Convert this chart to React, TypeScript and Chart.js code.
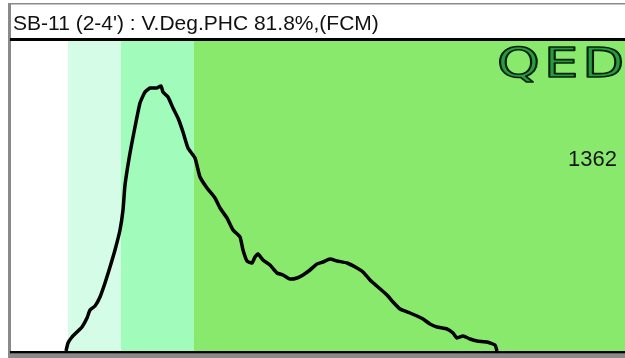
import { useEffect, useRef } from "react";
import { Chart, registerables } from "chart.js";

Chart.register(...registerables);

const TITLE = "SB-11 (2-4') : V.Deg.PHC 81.8%,(FCM)";
const LOGO = "QED";
const ANNOTATION = "1362";

const X_MAX = 614;
const Y_MAX = 310;

const retentionTime = [
  55, 57, 61, 66, 71, 76, 79, 84, 89, 94, 99, 104, 109, 112, 114, 119, 124, 129, 134, 139,
  146, 150, 152, 157, 162, 167, 172, 177, 184, 189, 196, 204, 209, 216, 222, 229, 232, 236,
  241, 244, 247, 252, 259, 266, 272, 279, 286, 292, 299, 306, 312, 319, 326, 336, 346, 352,
  359, 367, 376, 382, 389, 399, 406, 412, 419, 426, 436, 442, 446, 452, 459, 466, 476, 484, 486,
];
const response = [
  0, 8, 14, 19, 24, 33, 41, 45, 54, 68, 84, 101, 121, 141, 166, 198, 224, 248, 259, 263,
  263, 265, 259, 254, 243, 233, 219, 203, 193, 174, 163, 153, 143, 133, 121, 114, 101, 90,
  88, 94, 97, 91, 86, 78, 76, 72, 73, 76, 81, 87, 89, 92, 90, 88, 83, 79,
  71, 64, 56, 49, 42, 38, 35, 32, 27, 24, 22, 18, 13, 15, 12, 10, 9, 6, 0,
];

const bandStarts = [0, 57, 110, 183];
const bandEnds = [57, 110, 183, 614];
const bandColors = ["#ffffff", "#d4fce6", "#a1fbba", "#89e96c"];

const logoPos = { x: 486, y: 274 };
const annotationPos = { x: 606, y: 185 };

const framePlugin = {
  id: "frame",
  beforeDraw(chart: any) {
    const { ctx, width, height, chartArea, scales } = chart;
    ctx.save();
    ctx.fillStyle = "#ffffff";
    ctx.fillRect(0, 0, width, height);
    const xs = scales.x;
    for (let i = 0; i < bandStarts.length; i++) {
      const x0 = xs.getPixelForValue(bandStarts[i]);
      const x1 = xs.getPixelForValue(bandEnds[i]);
      ctx.fillStyle = bandColors[i];
      ctx.fillRect(x0, chartArea.top, x1 - x0, chartArea.bottom - chartArea.top);
    }
    ctx.fillStyle = "#8a8a8a";
    ctx.fillRect(8, 3, width - 8, 1.5);
    ctx.fillRect(8, 3, 3, height - 3);
    ctx.fillRect(8, chartArea.bottom + 2.5, width - 8, height - chartArea.bottom);
    ctx.fillStyle = "#111111";
    ctx.font = "21px 'Liberation Sans'";
    ctx.textBaseline = "alphabetic";
    ctx.textAlign = "left";
    ctx.fillText(TITLE, 13, 30);
    ctx.restore();
  },
  afterDatasetsDraw(chart: any) {
    const { ctx, chartArea, scales } = chart;
    ctx.save();
    ctx.fillStyle = "#000000";
    ctx.fillRect(chartArea.left - 1, chartArea.top - 3, chartArea.right - chartArea.left + 1, 3);
    ctx.fillRect(chartArea.left - 1, chartArea.bottom, chartArea.right - chartArea.left + 1, 2.5);
    ctx.fillStyle = "#151515";
    ctx.font = "22px 'Liberation Sans'";
    ctx.textAlign = "right";
    ctx.textBaseline = "alphabetic";
    ctx.fillText(ANNOTATION, scales.x.getPixelForValue(annotationPos.x), scales.y.getPixelForValue(annotationPos.y));
    const lx = scales.x.getPixelForValue(logoPos.x);
    const ly = scales.y.getPixelForValue(logoPos.y);
    ctx.beginPath();
    ctx.rect(chartArea.left, chartArea.top, chartArea.right - chartArea.left, chartArea.bottom - chartArea.top);
    ctx.clip();
    ctx.translate(lx, ly);
    ctx.scale(1.36, 1);
    ctx.font = "40px 'DejaVu Sans'";
    (ctx as any).letterSpacing = "3px";
    ctx.textAlign = "left";
    ctx.lineJoin = "round";
    ctx.fillStyle = "#2a9a40";
    ctx.strokeStyle = "#052008";
    ctx.lineWidth = 1.6;
    ctx.fillText(LOGO, 0, 0);
    ctx.strokeText(LOGO, 0, 0);
    ctx.restore();
  },
};

export default function App() {
  const ref = useRef<HTMLCanvasElement>(null);
  useEffect(() => {
    if (!ref.current) return;
    const chart = new Chart(ref.current, {
      type: "line",
      data: {
        datasets: [
          {
            data: retentionTime.map((x, i) => ({ x, y: response[i] })),
            borderColor: "#000000",
            borderWidth: 3.5,
            pointRadius: 0,
            tension: 0.15,
            fill: false,
          },
        ],
      },
      options: {
        animation: false,
        responsive: false,
        devicePixelRatio: 1,
        layout: { padding: { left: 11, top: 41, right: 0, bottom: 7 } },
        plugins: { legend: { display: false }, tooltip: { enabled: false }, title: { display: false } },
        scales: {
          x: { type: "linear", min: 0, max: X_MAX, display: false },
          y: { type: "linear", min: 0, max: Y_MAX, display: false },
        },
      },
      plugins: [framePlugin],
    });
    return () => chart.destroy();
  }, []);
  return (
    <div style={{ position: "fixed", left: 0, top: 0, width: 625, height: 358 }}>
      <canvas ref={ref} width={625} height={358} style={{ display: "block" }} />
    </div>
  );
}
